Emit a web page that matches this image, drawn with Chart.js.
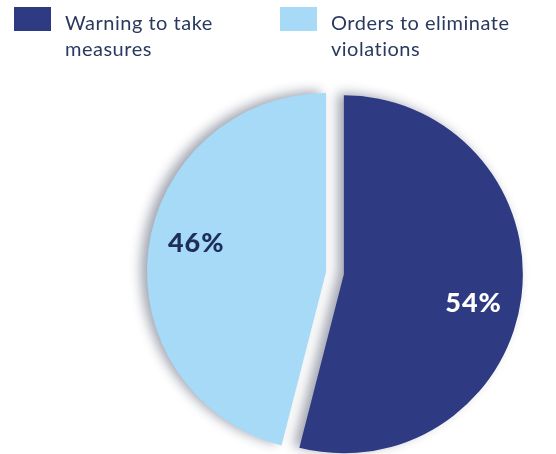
<!DOCTYPE html>
<html>
<head>
<meta charset="utf-8">
<script src="https://cdn.jsdelivr.net/npm/chart.js@4"></script>
<style>
  html, body { margin: 0; padding: 0; background: #fff; }
  #wrap { position: relative; width: 556px; height: 454px; }
  #legend { position: absolute; left: 0; top: 0; font-family: Lato, sans-serif; color: #2a3a5e; font-size: 20px; line-height: 26px; letter-spacing: 0.5px; }
  .item { position: absolute; top: 7px; }
  .box { position: absolute; left: 0; top: 0; width: 37px; height: 24px; }
  .txt { position: absolute; left: 51px; top: 2px; white-space: nowrap; }
</style>
</head>
<body>
<div id="wrap">
  <canvas id="pie" width="556" height="454"></canvas>
  <div id="legend"></div>
</div>
<script>
const categories = [['Warning to take', 'measures'], ['Orders to eliminate', 'violations']];
const shares = [54, 46];
const sliceColors = ['#2e3a81', '#a6daf6'];
const labelColors = ['#ffffff', '#1f2d5a'];
const explode = [18, 0];      // how far each slice is pulled out
const legendLeft = [14, 280];

// legend above the pie
const legend = document.getElementById('legend');
categories.forEach((lines, i) => {
  const item = document.createElement('div');
  item.className = 'item';
  item.style.left = legendLeft[i] + 'px';
  item.innerHTML = '<div class="box" style="background:' + sliceColors[i] + '"></div>' +
    '<div class="txt">' + lines.join('<br>') + '</div>';
  legend.appendChild(item);
});

// draws slices pulled out with a soft shadow, then the percentages
const slicePlugin = {
  id: 'slicePlugin',
  beforeDatasetsDraw(chart) {
    const ctx = chart.ctx;
    chart.getDatasetMeta(0).data.forEach((arc, i) => {
      const mid = (arc.startAngle + arc.endAngle) / 2;
      ctx.save();
      ctx.shadowColor = 'rgba(20, 30, 60, 0.4)';
      ctx.shadowBlur = 12;
      ctx.shadowOffsetX = -6;
      ctx.shadowOffsetY = -2;
      ctx.translate(Math.cos(mid) * explode[i], Math.sin(mid) * explode[i]);
      arc.draw(ctx);
      ctx.restore();
    });
    return false;
  },
  afterDraw(chart) {
    const ctx = chart.ctx;
    const data = chart.data.datasets[0].data;
    const total = data.reduce((a, b) => a + b, 0);
    ctx.save();
    ctx.font = '900 27px Lato, sans-serif';
    ctx.letterSpacing = '1px';
    ctx.textAlign = 'center';
    ctx.textBaseline = 'alphabetic';
    chart.getDatasetMeta(0).data.forEach((arc, i) => {
      const mid = (arc.startAngle + arc.endAngle) / 2;
      const a = mid + 5.5 * Math.PI / 180;
      const r = arc.outerRadius * 0.743;
      const x = arc.x + Math.cos(mid) * explode[i] + Math.cos(a) * r;
      const y = arc.y + Math.sin(mid) * explode[i] + Math.sin(a) * r;
      ctx.fillStyle = labelColors[i];
      ctx.fillText(Math.round(data[i] / total * 100) + '%', x, y + 9);
    });
    ctx.restore();
  }
};

new Chart(document.getElementById('pie').getContext('2d'), {
  type: 'pie',
  data: {
    labels: categories,
    datasets: [{
      data: shares,
      backgroundColor: sliceColors,
      borderWidth: 0
    }]
  },
  options: {
    responsive: false,
    animation: false,
    radius: 179,
    layout: { padding: { left: 96, top: 90, right: 0, bottom: 0 } },
    plugins: {
      legend: { display: false },
      tooltip: { enabled: false }
    }
  },
  plugins: [slicePlugin]
});
</script>
</body>
</html>
